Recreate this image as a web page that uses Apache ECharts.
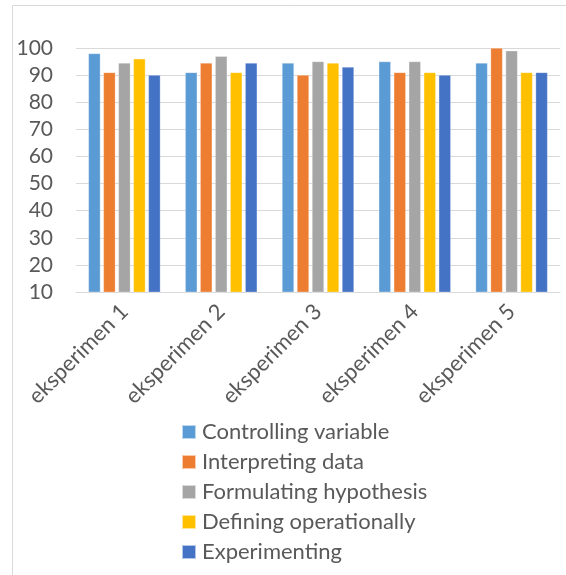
<!DOCTYPE html>
<html>
<head>
<meta charset="utf-8">
<script src="https://cdn.jsdelivr.net/npm/echarts@6/dist/echarts.min.js"></script>
<style>
html,body{margin:0;padding:0;background:#fff;}
#chart{width:566px;height:575px;}
</style>
</head>
<body>
<div id="chart"></div>
<script>
var categories = ['eksperimen 1', 'eksperimen 2', 'eksperimen 3', 'eksperimen 4', 'eksperimen 5'];
var seriesNames = ['Controlling variable', 'Interpreting data', 'Formulating hypothesis', 'Defining operationally', 'Experimenting'];
var controllingVariable = [98, 91, 94.5, 95, 94.5];
var interpretingData = [91, 94.5, 90, 91, 100];
var formulatingHypothesis = [94.5, 97, 95, 95, 99];
var definingOperationally = [96, 91, 94.5, 91, 91];
var experimenting = [90, 94.5, 93, 90, 91];
var colors = ['#5B9BD5', '#ED7D31', '#A5A5A5', '#FFC000', '#4472C4'];

var allData = [controllingVariable, interpretingData, formulatingHypothesis, definingOperationally, experimenting];
var FONT = 'Lato';
var TXT = '#595959';

var chart = echarts.init(document.getElementById('chart'));
chart.setOption({
  animation: false,
  color: colors,
  textStyle: { fontFamily: FONT },
  grid: { left: 76, right: 6, top: 48, bottom: 283, containLabel: false },
  legend: {
    orient: 'vertical',
    left: 176,
    top: 416,
    itemWidth: 14,
    itemHeight: 14,
    itemGap: 8,
    icon: 'rect',
    textStyle: { fontFamily: FONT, fontSize: 22, lineHeight: 22, color: TXT, padding: [0, 0, 0, 1] },
    data: seriesNames
  },
  xAxis: {
    type: 'category',
    data: categories,
    axisLine: { lineStyle: { color: '#D9D9D9', width: 1 } },
    axisTick: { show: false },
    axisLabel: { rotate: 45, fontFamily: FONT, fontSize: 22, color: TXT, margin: 16, interval: 0 }
  },
  yAxis: {
    type: 'value',
    min: 10,
    max: 100,
    interval: 10,
    axisLine: { show: false },
    axisTick: { show: false },
    splitLine: { lineStyle: { color: '#D9D9D9', width: 1 } },
    axisLabel: { fontFamily: FONT, fontSize: 21, color: TXT, margin: 23 }
  },
  graphic: [
    { type: 'line', shape: { x1: 12.5, y1: 5.5, x2: 566, y2: 5.5 }, style: { stroke: '#D9D9D9', lineWidth: 1 } },
    { type: 'line', shape: { x1: 12.5, y1: 5.5, x2: 12.5, y2: 575 }, style: { stroke: '#D9D9D9', lineWidth: 1 } }
  ],
  series: seriesNames.map(function (n, i) {
    return {
      name: n,
      type: 'bar',
      data: allData[i],
      barWidth: 12,
      barGap: '25%',
      itemStyle: { borderColor: 'rgba(255,255,255,0.6)', borderWidth: 0.5 }
    };
  })
});
</script>
</body>
</html>
